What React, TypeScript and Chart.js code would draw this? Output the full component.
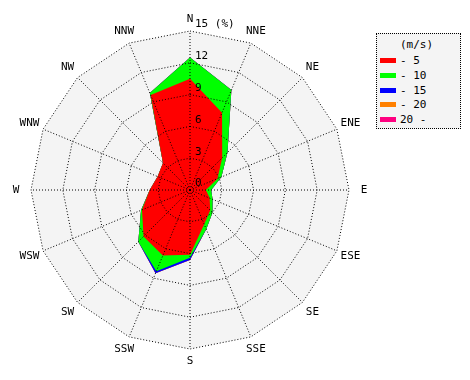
import React, { useEffect, useRef } from "react";
import { Chart, registerables } from "chart.js";
Chart.register(...registerables);

const directions = ["N", "NNE", "NE", "ENE", "E", "ESE", "SE", "SSE", "S", "SSW", "SW", "WSW", "W", "WNW", "NW", "NNW"];
const speedClasses = ["- 5", "- 10", "- 15", "- 20", "20 -"];
const classColors = ["#ff0000", "#00ff00", "#0000ff", "#ff8000", "#ff0080"];
// frequency (%) per speed class and direction
const upTo5 = [10.5, 7.9, 4.3, 2.8, 1.5, 2.0, 2.7, 3.5, 6.1, 6.7, 6.2, 4.9, 3.8, 3.3, 3.6, 9.7];
const upTo10 = [2.0, 2.3, 0.7, 0.4, 0.5, 0.3, 0.3, 0.5, 0.3, 1.6, 0.7, 0.1, 0.0, 0.0, 0.0, 0.2];
const upTo15 = [0, 0, 0, 0, 0, 0, 0, 0, 0.2, 0.2, 0, 0, 0, 0, 0, 0];
const upTo20 = [0, 0, 0, 0, 0, 0, 0, 0, 0, 0, 0, 0, 0, 0, 0, 0];
const over20 = [0, 0, 0, 0, 0, 0, 0, 0, 0, 0, 0, 0, 0, 0, 0, 0];
const tickValues = [0, 3, 6, 9, 12, 15];
const tickLabels = ["0", "3", "6", "9", "12", "15 (%)"];
const rMax = 15;

const FONT = '"DejaVu Sans Mono", monospace';

export default function App() {
  const ref = useRef<HTMLCanvasElement | null>(null);
  useEffect(() => {
    if (!ref.current) return;
    const classes = [upTo5, upTo10, upTo15, upTo20, over20];
    const cumulative: number[][] = [];
    classes.forEach((arr, k) => {
      cumulative.push(arr.map((v, i) => v + (k > 0 ? cumulative[k - 1][i] : 0)));
    });
    const bgPlugin = {
      id: "bgPoly",
      beforeDatasetsDraw(chart: any) {
        const s = chart.scales.r;
        const ctx = chart.ctx;
        const d = s.getDistanceFromCenterForValue(rMax);
        ctx.save();
        ctx.beginPath();
        directions.forEach((_, i) => {
          const p = s.getPointPosition(i, d);
          if (i === 0) ctx.moveTo(p.x, p.y);
          else ctx.lineTo(p.x, p.y);
        });
        ctx.closePath();
        ctx.fillStyle = "#f4f4f4";
        ctx.fill();
        ctx.restore();
      },
      afterDraw(chart: any) {
        const s = chart.scales.r;
        const ctx = chart.ctx;
        ctx.save();
        ctx.font = "11px " + FONT;
        ctx.fillStyle = "#000";
        ctx.textAlign = "left";
        ctx.textBaseline = "bottom";
        tickValues.forEach((v, i) => {
          const d = s.getDistanceFromCenterForValue(v);
          ctx.fillText(tickLabels[i], s.xCenter + 5, s.yCenter - d - 1);
        });
        ctx.textAlign = "center";
        ctx.textBaseline = "middle";
        const outer = s.getDistanceFromCenterForValue(rMax);
        directions.forEach((name, i) => {
          const ang = (i * Math.PI * 2) / directions.length;
          const extra = 12 + 3 * Math.abs(Math.sin(ang));
          const p = s.getPointPosition(i, outer + extra);
          ctx.fillText(name, p.x, p.y);
        });
        ctx.restore();
      },
    };
    const chart = new Chart(ref.current, {
      type: "radar",
      data: {
        labels: directions,
        datasets: speedClasses.map((name, k) => ({
          label: name,
          data: cumulative[k],
          backgroundColor: classColors[k],
          borderWidth: 0,
          borderColor: classColors[k],
          pointRadius: 0,
          fill: "origin",
        })),
      },
      options: {
        animation: false,
        responsive: true,
        maintainAspectRatio: false,
        plugins: { legend: { display: false }, tooltip: { enabled: false } },
        layout: { padding: 31 },
        scales: {
          r: {
            min: 0,
            max: rMax,
            ticks: { stepSize: 3, display: false },
            grid: { color: "#000", lineWidth: 1, z: 1 } as any,
            border: { dash: [1, 2] } as any,
            angleLines: { color: "#000", lineWidth: 1, borderDash: [1, 2] },
            pointLabels: { display: false },
          },
        },
      },
      plugins: [bgPlugin],
    });
    return () => chart.destroy();
  }, []);

  return (
    <div style={{ position: "fixed", left: 0, top: 0, width: 470, height: 380, background: "#fff" }}>
      <div style={{ position: "absolute", left: 0, top: 0, width: 380, height: 380 }}>
        <canvas ref={ref} />
      </div>
      <div
        style={{
          position: "absolute",
          left: 376,
          top: 33,
          width: 83,
          height: 94,
          border: "1px dotted #000",
          background: "#f4f4f4",
          font: "11px " + FONT,
          color: "#000",
        }}
      >
        <div style={{ position: "absolute", top: 4, left: 23, lineHeight: "13px" }}>(m/s)</div>
        {speedClasses.map((name, k) => (
          <div key={name} style={{ position: "absolute", top: 20 + k * 14.8, left: 0, height: 13, width: "100%" }}>
            <div style={{ position: "absolute", left: 3, top: 4, width: 16, height: 5, background: classColors[k] }} />
            <div style={{ position: "absolute", left: 23, top: 0, lineHeight: "13px", whiteSpace: "pre" }}>{name}</div>
          </div>
        ))}
      </div>
    </div>
  );
}
